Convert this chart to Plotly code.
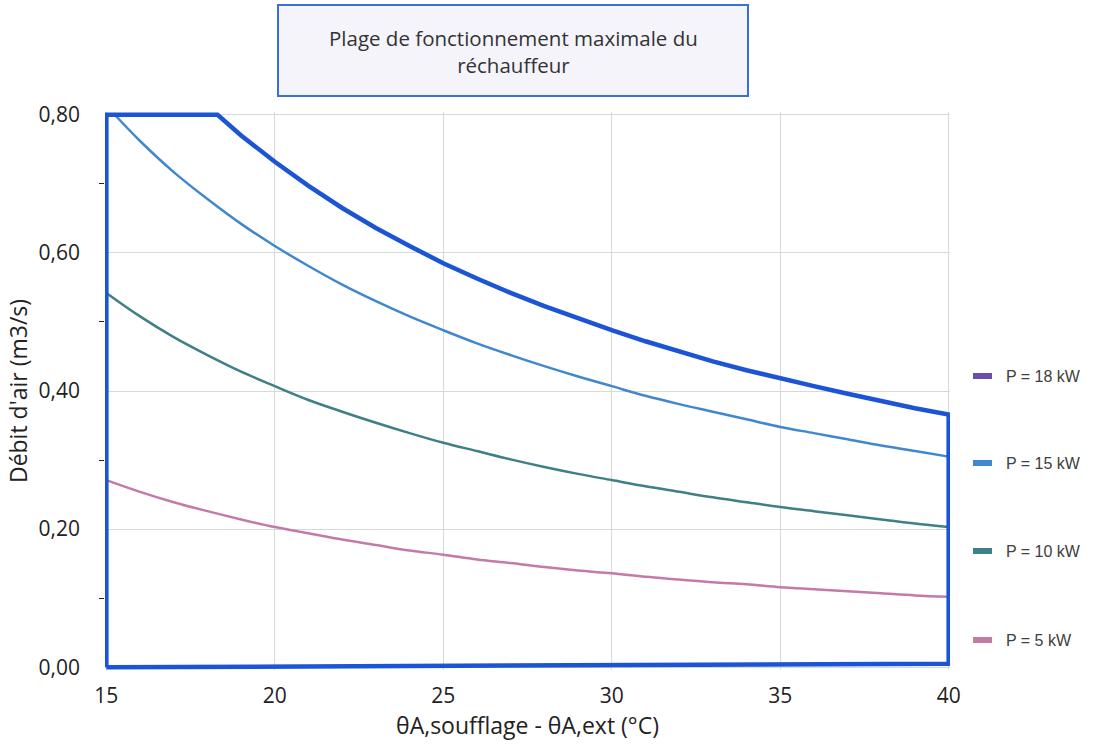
import plotly.graph_objects as go

# Data
x_vals = [15, 16, 17, 18, 19, 20, 21, 22, 23, 24, 25, 26, 27, 28, 29, 30,
          31, 32, 33, 34, 35, 36, 37, 38, 39, 40]
p5 = [0.271, 0.254, 0.239, 0.226, 0.214, 0.203, 0.194, 0.185, 0.177, 0.169,
      0.163, 0.156, 0.151, 0.145, 0.140, 0.136, 0.131, 0.127, 0.123, 0.120,
      0.116, 0.113, 0.110, 0.107, 0.104, 0.102]
p10 = [0.542, 0.508, 0.478, 0.452, 0.428, 0.407, 0.387, 0.370, 0.354, 0.339,
       0.325, 0.313, 0.301, 0.290, 0.280, 0.271, 0.262, 0.254, 0.246, 0.239,
       0.232, 0.226, 0.220, 0.214, 0.208, 0.203]
x15 = [15.25, 16, 17, 18, 19, 20, 21, 22, 23, 24, 25, 26, 27, 28, 29, 30,
       31, 32, 33, 34, 35, 36, 37, 38, 39, 40]
p15 = [0.800, 0.762, 0.717, 0.678, 0.642, 0.610, 0.581, 0.554, 0.530, 0.508,
       0.488, 0.469, 0.452, 0.436, 0.421, 0.407, 0.393, 0.381, 0.370, 0.359,
       0.348, 0.339, 0.330, 0.321, 0.313, 0.305]
x18 = [18.3, 19, 20, 21, 22, 23, 24, 25, 26, 27, 28, 29, 30,
       31, 32, 33, 34, 35, 36, 37, 38, 39, 40]
p18 = [0.800, 0.770, 0.732, 0.697, 0.665, 0.636, 0.610, 0.585, 0.563, 0.542,
       0.523, 0.505, 0.488, 0.472, 0.457, 0.443, 0.430, 0.418, 0.407, 0.396,
       0.385, 0.375, 0.366]

# Operating range frame corners
frame_left_x = [15, 15, 15]
frame_left_y = [0.0, 0.8, 0.8]
frame_bottom_x = [40, 40, 15]
frame_bottom_y = [0.366, 0.005, 0.0]

legend_names = ["P = 18 kW", "P = 15 kW", "P = 10 kW", "P = 5 kW"]
colors = ["#6a4fae", "#3f88d0", "#3f7f86", "#c47aa8"]
frame_color = "#1b55d6"

fig = go.Figure()
fig.add_trace(go.Scatter(x=x_vals, y=p5, mode="lines", line=dict(color=colors[3], width=2.5, shape="spline"),
                         name=legend_names[3], showlegend=False))
fig.add_trace(go.Scatter(x=x_vals, y=p10, mode="lines", line=dict(color=colors[2], width=2.5, shape="spline"),
                         name=legend_names[2], showlegend=False))
fig.add_trace(go.Scatter(x=x15, y=p15, mode="lines", line=dict(color=colors[1], width=2.5, shape="spline"),
                         name=legend_names[1], showlegend=False))
fig.add_trace(go.Scatter(x=x18, y=p18, mode="lines", line=dict(color=colors[0], width=2.5, shape="spline"),
                         name=legend_names[0], showlegend=False))
# Frame of the operating range
fx = frame_left_x[:2] + x18 + frame_bottom_x[1:]
fy = frame_left_y[:2] + p18 + frame_bottom_y[1:]
fig.add_trace(go.Scatter(x=fx, y=fy, mode="lines", line=dict(color=frame_color, width=4.5),
                         showlegend=False, hoverinfo="skip"))

W, H = 1098, 744
L, R, T, B = 105, 148, 112, 74
pw, ph = W - L - R, H - T - B

def px(x):
    return (x - L) / pw

def py(y):
    return (H - B - y) / ph

shapes = []
annotations = []
# Title box
shapes.append(dict(type="rect", xref="paper", yref="paper",
                   x0=px(278), x1=px(748), y0=py(96), y1=py(5),
                   fillcolor="#f5f4fb", line=dict(color="#3a6fd8", width=2), layer="above"))
annotations.append(dict(xref="paper", yref="paper", x=px(513), y=py(51),
                        text="Plage de fonctionnement maximale du<br>réchauffeur",
                        showarrow=False, xanchor="center", yanchor="middle",
                        font=dict(family="Open Sans", size=20.5, color="#333333")))
# Legend (manual)
leg_y = [376, 463, 551, 640]
for name, c, yy in zip(legend_names, colors, leg_y):
    shapes.append(dict(type="rect", xref="paper", yref="paper",
                       x0=px(973), x1=px(992), y0=py(yy + 3), y1=py(yy - 3),
                       fillcolor=c, line=dict(width=0)))
    annotations.append(dict(xref="paper", yref="paper", x=px(1004), y=py(yy),
                            text=name, showarrow=False, xanchor="left", yanchor="middle",
                            font=dict(family="Liberation Sans", size=16, color="#404040")))

fig.update_layout(
    width=W, height=H,
    margin=dict(l=L, r=R, t=T, b=B),
    paper_bgcolor="white", plot_bgcolor="white",
    separators=", ",
    showlegend=False,
    shapes=shapes, annotations=annotations,
    font=dict(family="Open Sans", color="#222222"),
)
fig.update_xaxes(range=[14.96, 40.04], tickvals=[15, 20, 25, 30, 35, 40],
                 showgrid=True, gridcolor="#d9d9d9", gridwidth=1,
                 zeroline=False, showline=False, ticks="",
                 ticklabelstandoff=11,
                 tickfont=dict(size=21, color="#222222"),
                 title=dict(text="θA,soufflage - θA,ext (°C)", font=dict(size=23, color="#222222"),
                            standoff=0))
fig.update_yaxes(range=[-0.004, 0.804], tickvals=[0, 0.2, 0.4, 0.6, 0.8], tickformat=".2f",
                 showgrid=True, gridcolor="#d9d9d9", gridwidth=1,
                 zeroline=False, showline=False, ticks="",
                 ticklabelstandoff=24,
                 minor=dict(tickvals=[0.1, 0.3, 0.5, 0.7], ticks="outside", ticklen=5,
                            tickcolor="#222222", showgrid=False),
                 tickfont=dict(size=21, color="#222222"),
                 title=dict(text="Débit d'air (m3/s)", font=dict(size=23, color="#222222"),
                            standoff=4))

fig.write_html("out.html")
